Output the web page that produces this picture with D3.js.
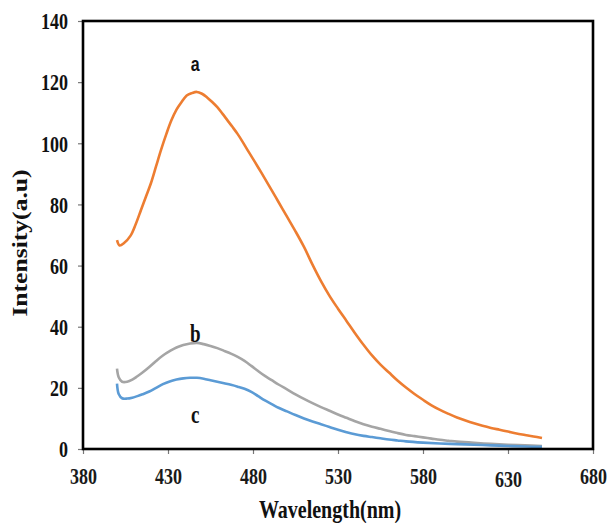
<!DOCTYPE html>
<html>
<head>
<meta charset="utf-8">
<script src="https://cdn.jsdelivr.net/npm/d3@7"></script>
<style>
  html, body { margin: 0; padding: 0; background: #fff; }
  svg { display: block; }
</style>
</head>
<body>
<svg id="chart" width="609" height="523"></svg>
<script>
// ---- data ----
const wlA = [400,401.5,404,408,411,414,417,420,423,426,429,432,435,438,441,444,447,450,453,456,459,462,465,468,471,474,477,480,485,490,495,500,505,510,515,520,525,530,535,540,545,550,555,560,565,570,575,580,585,590,595,600,605,610,615,620,625,630,635,640,645,650];
const valA = [68.3,66.6,67.3,69.8,73.5,78,82.5,87,92.5,98,103,107.5,111,113.5,115.6,116.4,116.8,116.2,115,113.5,111.8,109.7,107.5,105.3,103,100.4,97.6,94.9,90.3,85.6,80.8,76,71.2,66.1,60.3,54.9,50.1,45.9,41.9,37.9,34.1,30.6,27.6,25,22.4,20.1,18,16.1,14.3,12.8,11.5,10.3,9.3,8.4,7.6,6.9,6.3,5.7,5.1,4.6,4.1,3.6];

const wlB = [400,401,403,406,409,412,415,419,423,427,431,435,439,443,447,451,455,459,463,467,471,475,479,483,487,491,495,500,505,510,515,520,525,530,535,540,545,550,555,560,565,570,575,580,585,590,595,600,610,620,630,640,650];
const valB = [26.3,23.5,22,22,22.7,23.8,25,26.8,28.8,30.6,32,33.2,34,34.5,34.7,34.3,33.7,33,32.1,31.2,30.1,28.8,27.2,25.5,23.9,22.5,21.1,19.5,17.9,16.4,15,13.7,12.5,11.3,10.2,9.1,8.1,7.3,6.6,5.9,5.2,4.6,4.2,3.8,3.4,3,2.7,2.4,2,1.7,1.4,1.2,1];

const wlC = [400,401,403,406,409,412,415,419,423,427,431,435,439,443,447,451,455,459,463,467,471,475,479,483,487,491,495,500,505,510,515,520,525,530,535,540,545,550,555,560,565,570,580,590,600,610,620,630,640,650];
const valC = [21.4,18,16.6,16.5,16.8,17.3,17.9,18.8,20,21.2,22.1,22.7,23.1,23.3,23.3,23,22.5,22,21.5,21,20.4,19.7,18.7,17.3,15.9,14.7,13.5,12.3,11.1,10,9,8.1,7.2,6.3,5.5,4.8,4.3,3.9,3.5,3.1,2.8,2.5,2.1,1.8,1.6,1.4,1.2,1,0.8,0.7];

const xTicks = [380,430,480,530,580,630,680];
const yTicks = [0,20,40,60,80,100,120,140];
const seriesNames = ["a","b","c"];
const seriesColors = ["#ED7D31","#A5A5A5","#5B9BD5"];
const xTitle = "Wavelength(nm)";
const yTitle = "Intensity(a.u)";

// ---- layout ----
const svg = d3.select("#chart");
const L = 83, R = 593, T = 21, B = 449;
const x = d3.scaleLinear().domain([380,680]).range([L,R]);
const y = d3.scaleLinear().domain([0,140]).range([B,T]);
const SY = 1.28; // vertical stretch of the reference's text
const serif = "'Liberation Serif','Times New Roman',serif";

// curves
const series = [
  {w: wlA, v: valA}, {w: wlB, v: valB}, {w: wlC, v: valC}
];
const line = d3.line().x(d => x(d[0])).y(d => y(d[1])).curve(d3.curveCatmullRom.alpha(0.5));
series.forEach((s, i) => {
  svg.append("path")
    .datum(s.w.map((w, j) => [w, s.v[j]]))
    .attr("d", line)
    .attr("fill", "none")
    .attr("stroke", seriesColors[i])
    .attr("stroke-width", 2.6)
    .attr("stroke-linejoin", "round");
});

// axes
const yAxis = svg.append("g").attr("transform", `translate(${L},0)`)
  .call(d3.axisLeft(y).tickValues(yTicks).tickSize(5).tickPadding(0).tickFormat(d3.format("d")));
const xAxis = svg.append("g").attr("transform", `translate(0,${B})`)
  .call(d3.axisBottom(x).tickValues(xTicks).tickSize(5).tickPadding(0).tickFormat(d3.format("d")));
[yAxis, xAxis].forEach(g => {
  g.select(".domain").remove();
  g.selectAll(".tick line").attr("stroke", "#777").attr("stroke-width", 1.2);
  g.selectAll(".tick text")
    .attr("font-family", serif).attr("font-weight", "bold").attr("font-size", 18).attr("fill", "#111");
});
yAxis.selectAll(".tick text")
  .attr("x", -15).attr("dy", null).attr("y", 0)
  .attr("dominant-baseline", "central")
  .attr("transform", `scale(1,${SY})`);
xAxis.selectAll(".tick text")
  .attr("dy", null).attr("y", d => (d === 630 ? 38 : 35) / SY)
  .attr("transform", `scale(1,${SY})`)
  .attr("fill", "#1a1a1a");

// frame
svg.append("rect")
  .attr("x", L).attr("y", T).attr("width", R - L).attr("height", B - T)
  .attr("fill", "none").attr("stroke", "#000").attr("stroke-width", 2.6);

// titles
svg.append("text")
  .attr("transform", `translate(330,518) scale(1,${SY})`)
  .attr("text-anchor", "middle")
  .attr("font-family", serif).attr("font-weight", "bold").attr("font-size", 20)
  .attr("fill", "#111")
  .text(xTitle);
svg.append("text")
  .attr("transform", `translate(27,243) rotate(-90) scale(${SY},1)`)
  .attr("text-anchor", "middle")
  .attr("font-family", serif).attr("font-weight", "bold").attr("font-size", 20)
  .attr("fill", "#111")
  .text(yTitle);

// curve labels
const labelPos = [[446, 126], [446, 37.5], [446, 11]];
const labelFonts = ["'Liberation Sans',Arial,sans-serif", serif, serif];
seriesNames.forEach((n, i) => {
  svg.append("text")
    .attr("transform", `translate(${x(labelPos[i][0])},${y(labelPos[i][1])}) scale(1,${SY})`)
    .attr("text-anchor", "middle")
    .attr("dominant-baseline", "central")
    .attr("font-family", labelFonts[i]).attr("font-weight", "bold")
    .attr("font-size", i === 0 ? 16 : 19)
    .attr("fill", "#111")
    .text(n);
});
</script>
</body>
</html>
